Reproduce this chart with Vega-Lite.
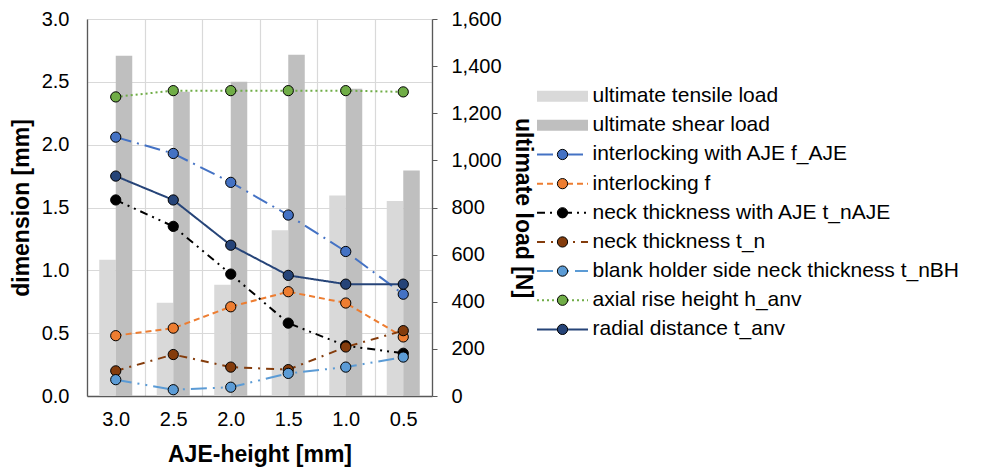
{
  "$schema": "https://vega.github.io/schema/vega-lite/v6.json",
  "background": "white",
  "padding": {"left": 10, "top": 9, "right": 2, "bottom": 2},
  "config": {
    "view": {"stroke": null},
    "font": "Liberation Sans",
    "axis": {
      "labelFont": "Liberation Sans",
      "labelFontSize": 20,
      "labelColor": "black",
      "titleFont": "Liberation Sans",
      "titleFontSize": 23,
      "titleFontWeight": "bold",
      "titleColor": "black",
      "gridColor": "#D9D9D9",
      "gridWidth": 1.2,
      "domainColor": "#595959",
      "domainWidth": 1.3,
      "tickColor": "#595959"
    }
  },
  "datasets": {
    "loads": [
      {"h": "3.0", "type": "ultimate tensile load", "load": 578},
      {"h": "2.5", "type": "ultimate tensile load", "load": 396},
      {"h": "2.0", "type": "ultimate tensile load", "load": 472},
      {"h": "1.5", "type": "ultimate tensile load", "load": 703},
      {"h": "1.0", "type": "ultimate tensile load", "load": 851},
      {"h": "0.5", "type": "ultimate tensile load", "load": 828},
      {"h": "3.0", "type": "ultimate shear load", "load": 1444},
      {"h": "2.5", "type": "ultimate shear load", "load": 1291},
      {"h": "2.0", "type": "ultimate shear load", "load": 1334},
      {"h": "1.5", "type": "ultimate shear load", "load": 1448},
      {"h": "1.0", "type": "ultimate shear load", "load": 1304},
      {"h": "0.5", "type": "ultimate shear load", "load": 957}
    ],
    "dims": [
      {"h": "3.0", "series": "interlocking with AJE f_AJE", "mm": 2.06},
      {"h": "2.5", "series": "interlocking with AJE f_AJE", "mm": 1.93},
      {"h": "2.0", "series": "interlocking with AJE f_AJE", "mm": 1.70},
      {"h": "1.5", "series": "interlocking with AJE f_AJE", "mm": 1.44},
      {"h": "1.0", "series": "interlocking with AJE f_AJE", "mm": 1.15},
      {"h": "0.5", "series": "interlocking with AJE f_AJE", "mm": 0.81},
      {"h": "3.0", "series": "interlocking f", "mm": 0.48},
      {"h": "2.5", "series": "interlocking f", "mm": 0.54},
      {"h": "2.0", "series": "interlocking f", "mm": 0.71},
      {"h": "1.5", "series": "interlocking f", "mm": 0.83},
      {"h": "1.0", "series": "interlocking f", "mm": 0.74},
      {"h": "0.5", "series": "interlocking f", "mm": 0.47},
      {"h": "3.0", "series": "neck thickness with AJE t_nAJE", "mm": 1.56},
      {"h": "2.5", "series": "neck thickness with AJE t_nAJE", "mm": 1.35},
      {"h": "2.0", "series": "neck thickness with AJE t_nAJE", "mm": 0.97},
      {"h": "1.5", "series": "neck thickness with AJE t_nAJE", "mm": 0.58},
      {"h": "1.0", "series": "neck thickness with AJE t_nAJE", "mm": 0.40},
      {"h": "0.5", "series": "neck thickness with AJE t_nAJE", "mm": 0.34},
      {"h": "3.0", "series": "neck thickness t_n", "mm": 0.20},
      {"h": "2.5", "series": "neck thickness t_n", "mm": 0.33},
      {"h": "2.0", "series": "neck thickness t_n", "mm": 0.23},
      {"h": "1.5", "series": "neck thickness t_n", "mm": 0.21},
      {"h": "1.0", "series": "neck thickness t_n", "mm": 0.39},
      {"h": "0.5", "series": "neck thickness t_n", "mm": 0.52},
      {"h": "3.0", "series": "blank holder side neck thickness t_nBH", "mm": 0.13},
      {"h": "2.5", "series": "blank holder side neck thickness t_nBH", "mm": 0.05},
      {"h": "2.0", "series": "blank holder side neck thickness t_nBH", "mm": 0.07},
      {"h": "1.5", "series": "blank holder side neck thickness t_nBH", "mm": 0.18},
      {"h": "1.0", "series": "blank holder side neck thickness t_nBH", "mm": 0.23},
      {"h": "0.5", "series": "blank holder side neck thickness t_nBH", "mm": 0.31},
      {"h": "3.0", "series": "axial rise height h_anv", "mm": 2.38},
      {"h": "2.5", "series": "axial rise height h_anv", "mm": 2.43},
      {"h": "2.0", "series": "axial rise height h_anv", "mm": 2.43},
      {"h": "1.5", "series": "axial rise height h_anv", "mm": 2.43},
      {"h": "1.0", "series": "axial rise height h_anv", "mm": 2.43},
      {"h": "0.5", "series": "axial rise height h_anv", "mm": 2.42},
      {"h": "3.0", "series": "radial distance t_anv", "mm": 1.75},
      {"h": "2.5", "series": "radial distance t_anv", "mm": 1.56},
      {"h": "2.0", "series": "radial distance t_anv", "mm": 1.20},
      {"h": "1.5", "series": "radial distance t_anv", "mm": 0.96},
      {"h": "1.0", "series": "radial distance t_anv", "mm": 0.89},
      {"h": "0.5", "series": "radial distance t_anv", "mm": 0.89}
    ],
    "legend": [
      {"series": "ultimate tensile load", "ord": 0, "kind": "bar"},
      {"series": "ultimate shear load", "ord": 1, "kind": "bar"},
      {"series": "interlocking with AJE f_AJE", "ord": 2, "kind": "line"},
      {"series": "interlocking f", "ord": 3, "kind": "line"},
      {"series": "neck thickness with AJE t_nAJE", "ord": 4, "kind": "line"},
      {"series": "neck thickness t_n", "ord": 5, "kind": "line"},
      {"series": "blank holder side neck thickness t_nBH", "ord": 6, "kind": "line"},
      {"series": "axial rise height h_anv", "ord": 7, "kind": "line"},
      {"series": "radial distance t_anv", "ord": 8, "kind": "line"}
    ]
  },
  "bounds": "flush",
  "spacing": 105,
  "hconcat": [
    {
      "width": 345,
      "height": 377,
      "layer": [
        {
          "data": {"name": "loads"},
          "mark": {"type": "bar"},
          "encoding": {
            "x": {
              "field": "h", "type": "ordinal",
              "sort": ["3.0", "2.5", "2.0", "1.5", "1.0", "0.5"],
              "scale": {"paddingInner": 0, "paddingOuter": 0},
              "axis": {
                "title": "AJE-height [mm]",
                "labelAngle": 0,
                "ticks": false,
                "tickSize": 0,
                "labelPadding": 13,
                "titlePadding": 14,
                "grid": true,
                "tickBand": "extent",
                "domain": true
              }
            },
            "xOffset": {
              "field": "type",
              "sort": ["ultimate tensile load", "ultimate shear load"],
              "scale": {"paddingInner": 0, "paddingOuter": 0.742}
            },
            "y": {
              "field": "load", "type": "quantitative",
              "scale": {"domain": [0, 1600], "nice": false},
              "axis": {
                "orient": "right",
                "title": "ultimate load [N]",
                "format": ",.0f",
                "values": [0, 200, 400, 600, 800, 1000, 1200, 1400, 1600],
                "grid": false,
                "ticks": true,
                "tickSize": 5,
                "labelPadding": 14,
                "titlePadding": 9
              }
            },
            "color": {
              "field": "type",
              "scale": {"domain": ["ultimate tensile load", "ultimate shear load"], "range": ["#D9D9D9", "#BFBFBF"]},
              "legend": null
            }
          }
        },
        {
          "data": {"name": "dims"},
          "encoding": {
            "x": {"field": "h", "type": "ordinal", "sort": ["3.0", "2.5", "2.0", "1.5", "1.0", "0.5"]},
            "y": {
              "field": "mm", "type": "quantitative",
              "scale": {"domain": [0, 3], "nice": false},
              "axis": {
                "orient": "left",
                "title": "dimension [mm]",
                "format": ".1f",
                "values": [0, 0.5, 1, 1.5, 2, 2.5, 3],
                "grid": true,
                "ticks": false,
                "tickSize": 0,
                "labelPadding": 18,
                "titlePadding": 8
              }
            }
          },
          "layer": [
            {
              "mark": {"type": "line", "strokeWidth": 2},
              "encoding": {
                "stroke": {
                  "field": "series",
                  "scale": {
                    "domain": ["interlocking with AJE f_AJE", "interlocking f", "neck thickness with AJE t_nAJE", "neck thickness t_n", "blank holder side neck thickness t_nBH", "axial rise height h_anv", "radial distance t_anv"],
                    "range": ["#4472C4", "#ED7D31", "#000000", "#843C0C", "#5B9BD5", "#70AD47", "#264478"]
                  },
                  "legend": null
                },
                "strokeDash": {
                  "field": "series",
                  "scale": {
                    "domain": ["interlocking with AJE f_AJE", "interlocking f", "neck thickness with AJE t_nAJE", "neck thickness t_n", "blank holder side neck thickness t_nBH", "axial rise height h_anv", "radial distance t_anv"],
                    "range": [[16, 6, 2, 6], [6, 4], [8, 5, 2, 5, 2, 5], [8, 6, 2, 6], [16, 6, 2, 6, 2, 6], [2, 3], [1, 0]]
                  },
                  "legend": null
                }
              }
            },
            {
              "mark": {"type": "point", "filled": true, "size": 105, "stroke": "black", "strokeWidth": 1, "opacity": 1},
              "encoding": {
                "fill": {
                  "field": "series",
                  "scale": {
                    "domain": ["interlocking with AJE f_AJE", "interlocking f", "neck thickness with AJE t_nAJE", "neck thickness t_n", "blank holder side neck thickness t_nBH", "axial rise height h_anv", "radial distance t_anv"],
                    "range": ["#4472C4", "#ED7D31", "#000000", "#843C0C", "#5B9BD5", "#70AD47", "#264478"]
                  },
                  "legend": null
                }
              }
            }
          ]
        }
      ],
      "resolve": {"scale": {"y": "independent"}}
    },
    {
      "width": 430,
      "height": 377,
      "data": {"name": "legend"},
      "encoding": {
        "y": {"field": "ord", "type": "quantitative", "scale": {"domain": [-2.648, 10.285], "reverse": true, "nice": false, "zero": false}, "axis": null}
      },
      "layer": [
        {
          "transform": [{"filter": "datum.kind === 'bar'"}],
          "mark": {"type": "rule", "strokeWidth": 11, "strokeCap": "butt"},
          "encoding": {
            "x": {"datum": 0, "type": "quantitative", "scale": {"domain": [0, 8.6]}, "axis": null},
            "x2": {"datum": 1.02},
            "color": {
              "field": "series",
              "scale": {"domain": ["ultimate tensile load", "ultimate shear load"], "range": ["#D9D9D9", "#BFBFBF"]},
              "legend": null
            }
          }
        },
        {
          "transform": [{"filter": "datum.kind === 'line'"}],
          "mark": {"type": "rule", "strokeWidth": 2, "strokeCap": "butt"},
          "encoding": {
            "x": {"datum": 0, "type": "quantitative", "scale": {"domain": [0, 8.6]}, "axis": null},
            "x2": {"datum": 1.02},
            "stroke": {
              "field": "series",
              "scale": {
                "domain": ["interlocking with AJE f_AJE", "interlocking f", "neck thickness with AJE t_nAJE", "neck thickness t_n", "blank holder side neck thickness t_nBH", "axial rise height h_anv", "radial distance t_anv"],
                "range": ["#4472C4", "#ED7D31", "#000000", "#843C0C", "#5B9BD5", "#70AD47", "#264478"]
              },
              "legend": null
            },
            "strokeDash": {
              "field": "series",
              "scale": {
                "domain": ["interlocking with AJE f_AJE", "interlocking f", "neck thickness with AJE t_nAJE", "neck thickness t_n", "blank holder side neck thickness t_nBH", "axial rise height h_anv", "radial distance t_anv"],
                "range": [[16, 6, 2, 6], [6, 4], [8, 5, 2, 5, 2, 5], [8, 6, 2, 6], [16, 6, 2, 6, 2, 6], [2, 3], [1, 0]]
              },
              "legend": null
            }
          }
        },
        {
          "transform": [{"filter": "datum.kind === 'line'"}],
          "mark": {"type": "point", "filled": true, "size": 105, "stroke": "black", "strokeWidth": 1, "opacity": 1},
          "encoding": {
            "x": {"datum": 0.51, "type": "quantitative", "scale": {"domain": [0, 8.6]}, "axis": null},
            "fill": {
              "field": "series",
              "scale": {
                "domain": ["interlocking with AJE f_AJE", "interlocking f", "neck thickness with AJE t_nAJE", "neck thickness t_n", "blank holder side neck thickness t_nBH", "axial rise height h_anv", "radial distance t_anv"],
                "range": ["#4472C4", "#ED7D31", "#000000", "#843C0C", "#5B9BD5", "#70AD47", "#264478"]
              },
              "legend": null
            }
          }
        },
        {
          "mark": {"type": "text", "align": "left", "baseline": "middle", "fontSize": 21, "font": "Liberation Sans", "color": "black"},
          "encoding": {
            "x": {"datum": 1.11, "type": "quantitative", "scale": {"domain": [0, 8.6]}, "axis": null},
            "text": {"field": "series"}
          }
        }
      ]
    }
  ]
}
